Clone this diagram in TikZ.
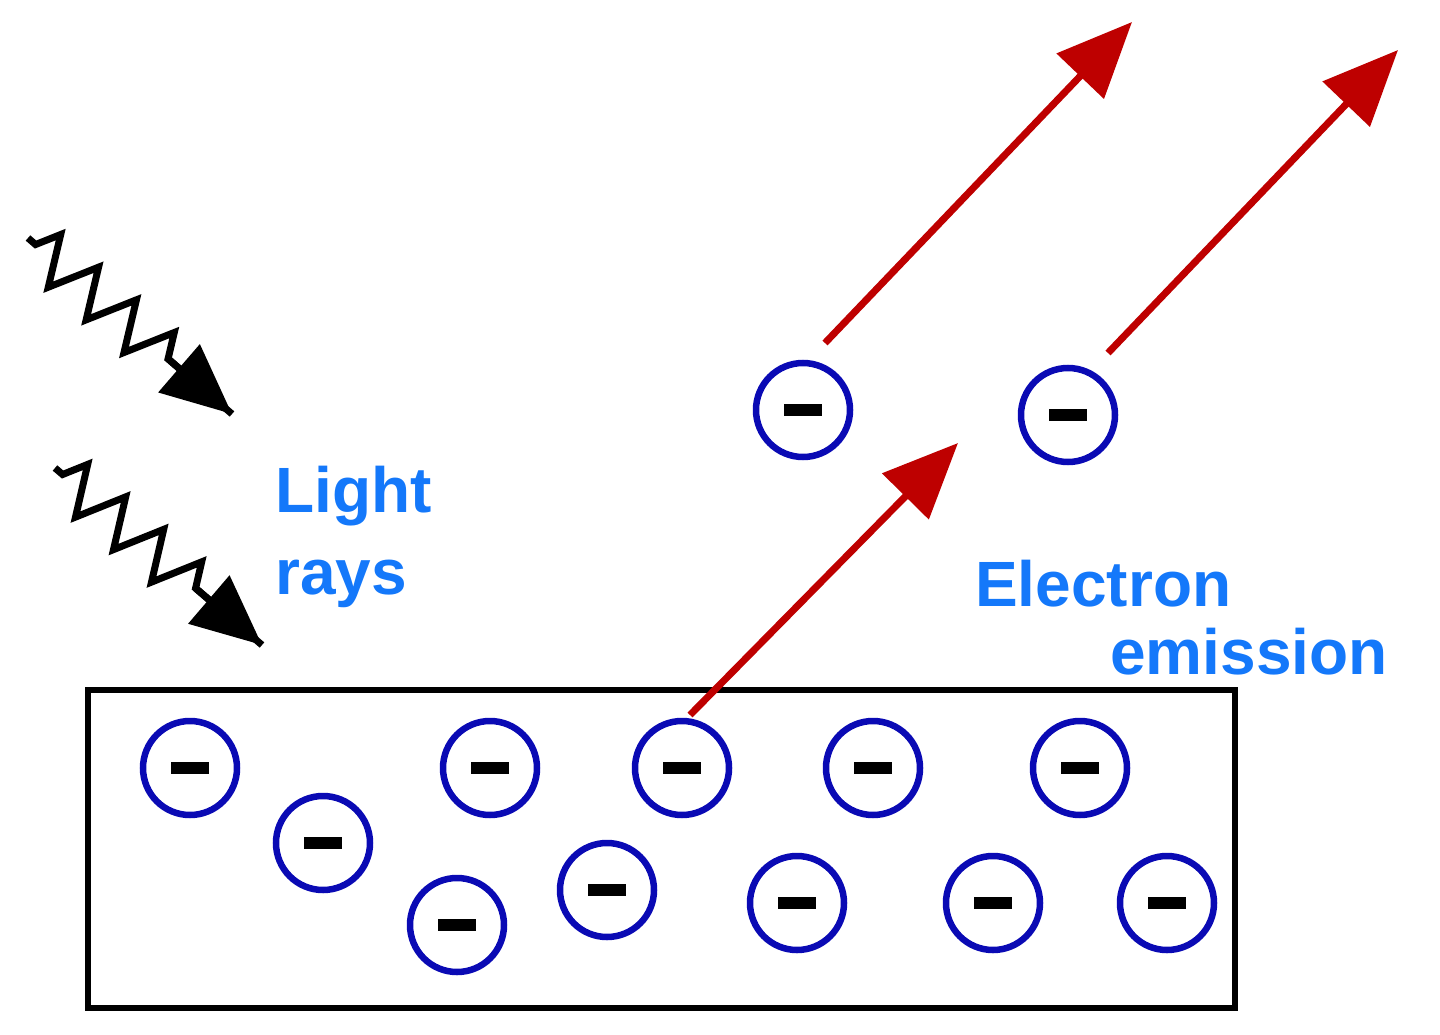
\documentclass[tikz,border=0pt]{standalone}
\usepackage{fontspec}
\setmainfont{Liberation Sans}
\usetikzlibrary{arrows.meta,decorations.pathmorphing}
\definecolor{eblue}{RGB}{10,10,180}
\definecolor{ered}{RGB}{190,0,0}
\definecolor{tblue}{RGB}{20,120,250}
\begin{document}
\begin{tikzpicture}[x=1pt,y=-1pt,
 el/.style={circle,draw=eblue,line width=6.5pt,minimum size=94pt,inner sep=0pt,
   path picture={\fill[black] ([xshift=-19pt,yshift=-6pt]path picture bounding box.center) rectangle ([xshift=19pt,yshift=6pt]path picture bounding box.center);}},
 emit/.style={draw=ered,line width=7pt,-{Triangle[length=75pt,width=64pt]}},
 ray/.style={line width=7pt,decorate,decoration={zigzag,segment length=50pt,amplitude=24pt,pre length=10pt,post length=70pt}},
 lbl/.style={text=tblue,font=\bfseries\fontsize{64}{66}\selectfont,anchor=base west,inner sep=0pt}]
\useasboundingbox (0,0) rectangle (1440,1035);
\node[draw,line width=6pt,minimum width=1147pt,minimum height=318pt,anchor=north west,inner sep=0pt] (box) at (85,687) {};
\foreach \n/\x/\y in {a/190/768,b/323/843,c/490/768,d/457/925,e/682/768,f/607/890,g/873/768,h/797/903,i/1080/768,j/993/903,k/1167/903,m/803/410,n/1068/415}
  \node[el] (\n) at (\x,\y) {};
\coordinate (t1) at (958,443);
\coordinate (t2) at (1132,22);
\coordinate (t3) at (1398,50);
\coordinate (s2) at (825,343);
\coordinate (s3) at (1108,353);
\coordinate (s1) at (690,715);
\draw[emit] (s1) -- (t1);
\draw[emit] (s2) -- (t2);
\draw[emit] (s3) -- (t3);
\coordinate (r1a) at (28,238); \coordinate (r1b) at (232,414);
\coordinate (r2a) at (55,468); \coordinate (r2b) at (262,645);
\draw[ray] (r1a) -- (r1b);
\draw[ray] (r2a) -- (r2b);
\path (r1a) -- coordinate[pos=0.68] (q1) (r1b);
\path (r2a) -- coordinate[pos=0.68] (q2) (r2b);
\draw[line width=7pt,-{Triangle[length=70pt,width=62pt]}] (q1) -- (r1b);
\draw[line width=7pt,-{Triangle[length=70pt,width=62pt]}] (q2) -- (r2b);
\node[lbl] (l1) at (275,512) {Light};
\node[lbl] (l2) at (275,594) {rays};
\node[lbl] (l3) at (975,606) {Electron};
\node[lbl] (l4) at (1110,674) {emission};
\end{tikzpicture}
\end{document}
